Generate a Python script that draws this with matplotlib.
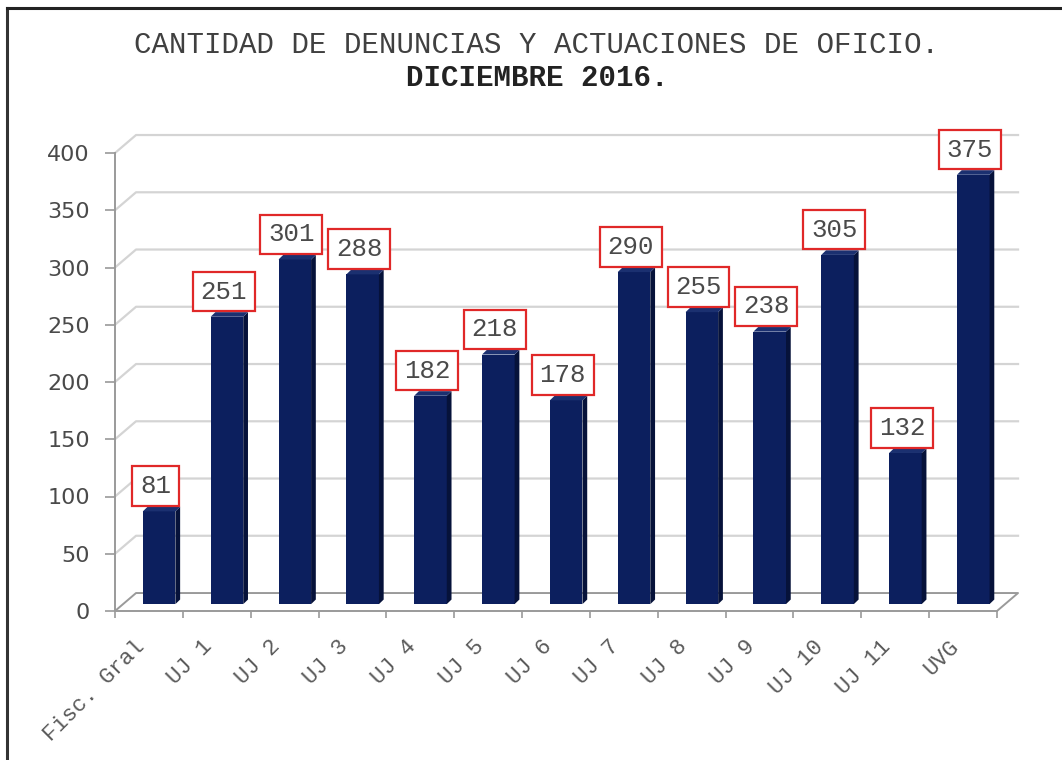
import matplotlib
matplotlib.use('Agg')
import matplotlib.pyplot as plt
from matplotlib.patches import Polygon
from matplotlib.lines import Line2D

categories = ['Fisc. Gral', 'UJ 1', 'UJ 2', 'UJ 3', 'UJ 4', 'UJ 5', 'UJ 6',
              'UJ 7', 'UJ 8', 'UJ 9', 'UJ 10', 'UJ 11', 'UVG']
values = [81, 251, 301, 288, 182, 218, 178, 290, 255, 238, 305, 132, 375]
yticks = [0, 50, 100, 150, 200, 250, 300, 350, 400]
title_1 = 'CANTIDAD DE DENUNCIAS Y ACTUACIONES DE OFICIO.'
title_2 = 'DICIEMBRE 2016.'

# fake 3d look (in data units)
DX, DY = 0.31, 15.7         # depth of the back wall
SX, SY = 0.15, 6            # bars sit in the middle of the depth
W = 0.48                    # front face width
BX, BY = 0.07, 4            # bar depth

front_c = '#0c1f5e'
side_c = '#06123a'
top_c = '#1b3070'
grid_c = '#d4d4d4'
axis_c = '#9a9a9a'
mono = 'Liberation Mono'

fig = plt.figure(figsize=(10.62, 7.6), dpi=100)
ax = fig.add_axes([115 / 1062, 149 / 760, 882 / 1062, 458 / 760])
ax.set_xlim(-0.5, len(categories) - 0.5)
ax.set_ylim(0, 400)

x0, x1 = -0.5, len(categories) - 0.5

# back wall gridlines
for v in yticks[1:]:
    ax.add_line(Line2D([x0, x0 + DX, x1 + DX], [v, v + DY, v + DY],
                       color=grid_c, lw=1.6, clip_on=False, zorder=1))
# floor
ax.add_line(Line2D([x0, x0 + DX, x1 + DX, x1], [0, DY, DY, 0],
                   color=axis_c, lw=1.4, clip_on=False, zorder=1))

xs = list(range(len(categories)))
ax.bar([x + SX for x in xs], values, width=W, bottom=SY, color=front_c,
       edgecolor='none', zorder=3)
for x, v in zip(xs, values):
    r = x + SX + W / 2
    l = x + SX - W / 2
    top = v + SY
    ax.add_patch(Polygon([(r, SY), (r + BX, SY + BY), (r + BX, top + BY), (r, top)],
                         closed=True, color=side_c, lw=0, zorder=3, clip_on=False))
    ax.add_patch(Polygon([(l, top), (l + BX, top + BY), (r + BX, top + BY), (r, top)],
                         closed=True, color=top_c, lw=0, zorder=3, clip_on=False))
    ax.text(x + 0.1, top + 22, str(v), ha='center', va='center', fontsize=18.5,
            family=mono, color='#4a4a4a', zorder=5, clip_on=False,
            bbox=dict(boxstyle='square,pad=0.3', fc='white', ec='#e02828', lw=1.6))

for s in ['top', 'right']:
    ax.spines[s].set_visible(False)
for s in ['left', 'bottom']:
    ax.spines[s].set_color(axis_c)
    ax.spines[s].set_linewidth(1.4)

ax.set_yticks(yticks)
ax.set_yticklabels([str(t) for t in yticks], fontsize=16, color='#4a4a4a', family='DejaVu Sans')
ax.tick_params(axis='y', length=7, width=1.2, color=axis_c, pad=11)

ax.set_xticks(xs)
ax.set_xticklabels(categories, rotation=45, ha='right', fontsize=16, family=mono, color='#5a5a5a')
ax.tick_params(axis='x', which='major', length=0, pad=18)
ax.set_xticks([x - 0.5 for x in xs] + [x1], minor=True)
ax.tick_params(axis='x', which='minor', length=5, width=1.2, color=axis_c)

fig.text(537 / 1062, 1 - 45 / 760, title_1, ha='center', va='center', fontsize=21,
         family=mono, color='#404040')
fig.text(537 / 1062, 1 - 78 / 760, title_2, ha='center', va='center', fontsize=21,
         family=mono, color='#222222', fontweight='bold')

# picture frame (left and top edges)
fig.add_artist(Line2D([7 / 1062, 7 / 1062], [0, 1 - 8 / 760], color='#333333', lw=2.2,
                      transform=fig.transFigure))
fig.add_artist(Line2D([7 / 1062, 1], [1 - 8 / 760, 1 - 8 / 760], color='#222222', lw=2.2,
                      transform=fig.transFigure))

fig.savefig('out.png', dpi=100)
